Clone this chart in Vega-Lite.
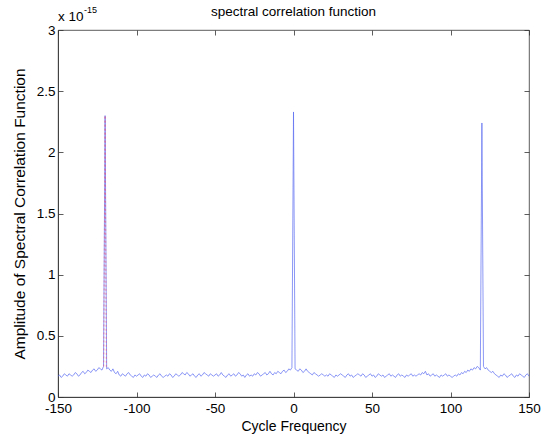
{
  "$schema": "https://vega.github.io/schema/vega-lite/v6.json",
  "autosize": "none",
  "width": 471,
  "height": 367,
  "padding": {"left": 58, "top": 30, "right": 17, "bottom": 44},
  "background": "white",
  "title": {"text": "spectral correlation function", "fontSize": 13.5, "fontWeight": "normal", "font": "Liberation Sans", "color": "#000", "offset": -12, "anchor": "middle"},
  "config": {
    "view": {"stroke": "#333", "strokeWidth": 0.8},
    "axis": {"grid": false, "domainColor": "#333", "domainWidth": 0.8, "tickColor": "#333", "tickWidth": 0.8, "tickSize": -5, "labelFont": "Liberation Sans", "labelFontSize": 13.5, "labelColor": "#000", "titleFont": "Liberation Sans", "titleFontSize": 14, "titleFontWeight": "normal", "titleColor": "#000"}
  },
  "datasets": {
    "main": [
{"x":-150,"y":0.17},{"x":-149,"y":0.18},{"x":-148,"y":0.16},{"x":-147,"y":0.17},{"x":-146,"y":0.19},{"x":-145,"y":0.18},{"x":-144,"y":0.17},{"x":-143,"y":0.19},{"x":-142,"y":0.18},{"x":-141,"y":0.17},
{"x":-140,"y":0.18},{"x":-139,"y":0.20},{"x":-138,"y":0.19},{"x":-137,"y":0.17},{"x":-136,"y":0.18},{"x":-135,"y":0.20},{"x":-134,"y":0.21},{"x":-133,"y":0.19},{"x":-132,"y":0.20},{"x":-131,"y":0.22},
{"x":-130,"y":0.21},{"x":-129,"y":0.20},{"x":-128,"y":0.22},{"x":-127,"y":0.23},{"x":-126,"y":0.21},{"x":-125,"y":0.22},{"x":-124,"y":0.24},{"x":-123,"y":0.23},{"x":-122,"y":0.22},{"x":-121,"y":0.25},
{"x":-120,"y":2.30},
{"x":-119,"y":0.23},{"x":-118,"y":0.24},{"x":-117,"y":0.22},{"x":-116,"y":0.21},{"x":-115,"y":0.23},{"x":-114,"y":0.20},{"x":-113,"y":0.19},{"x":-112,"y":0.21},{"x":-111,"y":0.18},{"x":-110,"y":0.17},
{"x":-109,"y":0.19},{"x":-108,"y":0.18},{"x":-107,"y":0.17},{"x":-106,"y":0.19},{"x":-105,"y":0.20},{"x":-104,"y":0.18},{"x":-103,"y":0.17},{"x":-102,"y":0.16},{"x":-101,"y":0.18},{"x":-100,"y":0.17},
{"x":-99,"y":0.18},{"x":-98,"y":0.19},{"x":-97,"y":0.17},{"x":-96,"y":0.16},{"x":-95,"y":0.18},{"x":-94,"y":0.17},{"x":-93,"y":0.19},{"x":-92,"y":0.18},{"x":-91,"y":0.16},{"x":-90,"y":0.17},
{"x":-89,"y":0.18},{"x":-88,"y":0.17},{"x":-87,"y":0.16},{"x":-86,"y":0.18},{"x":-85,"y":0.19},{"x":-84,"y":0.17},{"x":-83,"y":0.16},{"x":-82,"y":0.17},{"x":-81,"y":0.18},{"x":-80,"y":0.17},
{"x":-79,"y":0.19},{"x":-78,"y":0.18},{"x":-77,"y":0.16},{"x":-76,"y":0.17},{"x":-75,"y":0.19},{"x":-74,"y":0.18},{"x":-73,"y":0.17},{"x":-72,"y":0.18},{"x":-71,"y":0.20},{"x":-70,"y":0.19},
{"x":-69,"y":0.18},{"x":-68,"y":0.20},{"x":-67,"y":0.19},{"x":-66,"y":0.17},{"x":-65,"y":0.18},{"x":-64,"y":0.19},{"x":-63,"y":0.17},{"x":-62,"y":0.16},{"x":-61,"y":0.18},{"x":-60,"y":0.19},
{"x":-59,"y":0.17},{"x":-58,"y":0.18},{"x":-57,"y":0.20},{"x":-56,"y":0.19},{"x":-55,"y":0.18},{"x":-54,"y":0.17},{"x":-53,"y":0.19},{"x":-52,"y":0.18},{"x":-51,"y":0.17},{"x":-50,"y":0.18},
{"x":-49,"y":0.19},{"x":-48,"y":0.17},{"x":-47,"y":0.18},{"x":-46,"y":0.20},{"x":-45,"y":0.18},{"x":-44,"y":0.17},{"x":-43,"y":0.16},{"x":-42,"y":0.18},{"x":-41,"y":0.19},{"x":-40,"y":0.17},
{"x":-39,"y":0.18},{"x":-38,"y":0.19},{"x":-37,"y":0.17},{"x":-36,"y":0.18},{"x":-35,"y":0.20},{"x":-34,"y":0.19},{"x":-33,"y":0.17},{"x":-32,"y":0.18},{"x":-31,"y":0.16},{"x":-30,"y":0.18},
{"x":-29,"y":0.19},{"x":-28,"y":0.17},{"x":-27,"y":0.18},{"x":-26,"y":0.17},{"x":-25,"y":0.19},{"x":-24,"y":0.18},{"x":-23,"y":0.20},{"x":-22,"y":0.19},{"x":-21,"y":0.17},{"x":-20,"y":0.18},
{"x":-19,"y":0.19},{"x":-18,"y":0.20},{"x":-17,"y":0.18},{"x":-16,"y":0.19},{"x":-15,"y":0.21},{"x":-14,"y":0.19},{"x":-13,"y":0.18},{"x":-12,"y":0.20},{"x":-11,"y":0.19},{"x":-10,"y":0.21},
{"x":-9,"y":0.20},{"x":-8,"y":0.19},{"x":-7,"y":0.21},{"x":-6,"y":0.22},{"x":-5,"y":0.20},{"x":-4,"y":0.21},{"x":-3,"y":0.23},{"x":-2,"y":0.22},{"x":-1,"y":0.24},
{"x":0,"y":2.33},
{"x":1,"y":0.23},{"x":2,"y":0.22},{"x":3,"y":0.21},{"x":4,"y":0.23},{"x":5,"y":0.22},{"x":6,"y":0.20},{"x":7,"y":0.21},{"x":8,"y":0.23},{"x":9,"y":0.21},{"x":10,"y":0.20},
{"x":11,"y":0.19},{"x":12,"y":0.18},{"x":13,"y":0.20},{"x":14,"y":0.19},{"x":15,"y":0.18},{"x":16,"y":0.17},{"x":17,"y":0.18},{"x":18,"y":0.19},{"x":19,"y":0.18},{"x":20,"y":0.17},
{"x":21,"y":0.18},{"x":22,"y":0.17},{"x":23,"y":0.19},{"x":24,"y":0.18},{"x":25,"y":0.17},{"x":26,"y":0.16},{"x":27,"y":0.18},{"x":28,"y":0.17},{"x":29,"y":0.18},{"x":30,"y":0.19},
{"x":31,"y":0.18},{"x":32,"y":0.17},{"x":33,"y":0.16},{"x":34,"y":0.18},{"x":35,"y":0.19},{"x":36,"y":0.17},{"x":37,"y":0.18},{"x":38,"y":0.16},{"x":39,"y":0.17},{"x":40,"y":0.18},
{"x":41,"y":0.19},{"x":42,"y":0.18},{"x":43,"y":0.17},{"x":44,"y":0.19},{"x":45,"y":0.18},{"x":46,"y":0.16},{"x":47,"y":0.17},{"x":48,"y":0.18},{"x":49,"y":0.19},{"x":50,"y":0.17},
{"x":51,"y":0.18},{"x":52,"y":0.16},{"x":53,"y":0.17},{"x":54,"y":0.19},{"x":55,"y":0.18},{"x":56,"y":0.17},{"x":57,"y":0.18},{"x":58,"y":0.16},{"x":59,"y":0.17},{"x":60,"y":0.18},
{"x":61,"y":0.19},{"x":62,"y":0.17},{"x":63,"y":0.18},{"x":64,"y":0.17},{"x":65,"y":0.16},{"x":66,"y":0.18},{"x":67,"y":0.19},{"x":68,"y":0.17},{"x":69,"y":0.18},{"x":70,"y":0.17},
{"x":71,"y":0.16},{"x":72,"y":0.18},{"x":73,"y":0.17},{"x":74,"y":0.18},{"x":75,"y":0.19},{"x":76,"y":0.17},{"x":77,"y":0.18},{"x":78,"y":0.17},{"x":79,"y":0.18},{"x":80,"y":0.19},
{"x":81,"y":0.18},{"x":82,"y":0.20},{"x":83,"y":0.19},{"x":84,"y":0.21},{"x":85,"y":0.18},{"x":86,"y":0.19},{"x":87,"y":0.17},{"x":88,"y":0.18},{"x":89,"y":0.19},{"x":90,"y":0.17},
{"x":91,"y":0.18},{"x":92,"y":0.17},{"x":93,"y":0.16},{"x":94,"y":0.18},{"x":95,"y":0.17},{"x":96,"y":0.18},{"x":97,"y":0.19},{"x":98,"y":0.17},{"x":99,"y":0.18},{"x":100,"y":0.17},
{"x":101,"y":0.16},{"x":102,"y":0.17},{"x":103,"y":0.18},{"x":104,"y":0.17},{"x":105,"y":0.19},{"x":106,"y":0.18},{"x":107,"y":0.20},{"x":108,"y":0.19},{"x":109,"y":0.21},{"x":110,"y":0.20},
{"x":111,"y":0.22},{"x":112,"y":0.21},{"x":113,"y":0.23},{"x":114,"y":0.22},{"x":115,"y":0.24},{"x":116,"y":0.23},{"x":117,"y":0.25},{"x":118,"y":0.24},{"x":119,"y":0.22},
{"x":120,"y":2.24},
{"x":121,"y":0.25},{"x":122,"y":0.23},{"x":123,"y":0.24},{"x":124,"y":0.22},{"x":125,"y":0.21},{"x":126,"y":0.20},{"x":127,"y":0.21},{"x":128,"y":0.19},{"x":129,"y":0.18},{"x":130,"y":0.17},
{"x":131,"y":0.16},{"x":132,"y":0.18},{"x":133,"y":0.17},{"x":134,"y":0.19},{"x":135,"y":0.18},{"x":136,"y":0.16},{"x":137,"y":0.17},{"x":138,"y":0.18},{"x":139,"y":0.19},{"x":140,"y":0.17},
{"x":141,"y":0.16},{"x":142,"y":0.18},{"x":143,"y":0.17},{"x":144,"y":0.19},{"x":145,"y":0.18},{"x":146,"y":0.17},{"x":147,"y":0.16},{"x":148,"y":0.18},{"x":149,"y":0.19},{"x":150,"y":0.17}
    ],
    "red": [
      {"x":-120.9,"y":0.25},{"x":-120,"y":2.30},{"x":-119.2,"y":0.24}
    ],
    "mult": [{"x":-150,"y":3,"t":"x 10","sup":"-15"}]
  },
  "layer": [
    {
      "data": {"name": "main"},
      "mark": {"type": "line", "color": "#5a6cf0", "strokeWidth": 0.7, "interpolate": "linear"},
      "encoding": {
        "x": {"field": "x", "type": "quantitative", "scale": {"domain": [-150, 150], "nice": false, "zero": false},
              "axis": {"values": [-150,-100,-50,0,50,100,150], "labelExpr": "toString(datum.value)", "title": "Cycle Frequency", "labelPadding": 9, "titlePadding": 5, "labelFlush": false}},
        "y": {"field": "y", "type": "quantitative", "scale": {"domain": [0, 3], "nice": false},
              "axis": {"values": [0,0.5,1,1.5,2,2.5,3], "labelExpr": "toString(datum.value)", "title": "Amplitude of Spectral Correlation Function", "titleFontSize": 15.5, "labelPadding": 8, "titlePadding": 9, "labelFlush": false}}
      }
    },
    {
      "data": {"name": "red"},
      "mark": {"type": "line", "color": "#e05a8a", "strokeWidth": 0.7, "strokeDash": [2, 2]},
      "encoding": {
        "x": {"field": "x", "type": "quantitative", "axis": {"orient": "top", "values": [-150,-100,-50,0,50,100,150], "labels": false, "title": null, "domain": false}},
        "y": {"field": "y", "type": "quantitative", "axis": {"orient": "right", "values": [0,0.5,1,1.5,2,2.5,3], "labels": false, "title": null, "domain": false}}
      }
    },
    {
      "data": {"name": "mult"},
      "mark": {"type": "text", "align": "left", "baseline": "alphabetic", "font": "Liberation Sans", "fontSize": 13.5, "dx": 0, "dy": -9, "color": "#000"},
      "encoding": {
        "x": {"field": "x", "type": "quantitative", "axis": null},
        "y": {"field": "y", "type": "quantitative", "axis": null},
        "text": {"field": "t"}
      }
    },
    {
      "data": {"name": "mult"},
      "mark": {"type": "text", "align": "left", "baseline": "alphabetic", "font": "Liberation Sans", "fontSize": 9, "dx": 26, "dy": -17, "color": "#000"},
      "encoding": {
        "x": {"field": "x", "type": "quantitative", "axis": null},
        "y": {"field": "y", "type": "quantitative", "axis": null},
        "text": {"field": "sup"}
      }
    }
  ],
  "resolve": {"axis": {"x": "independent", "y": "independent"}}
}
